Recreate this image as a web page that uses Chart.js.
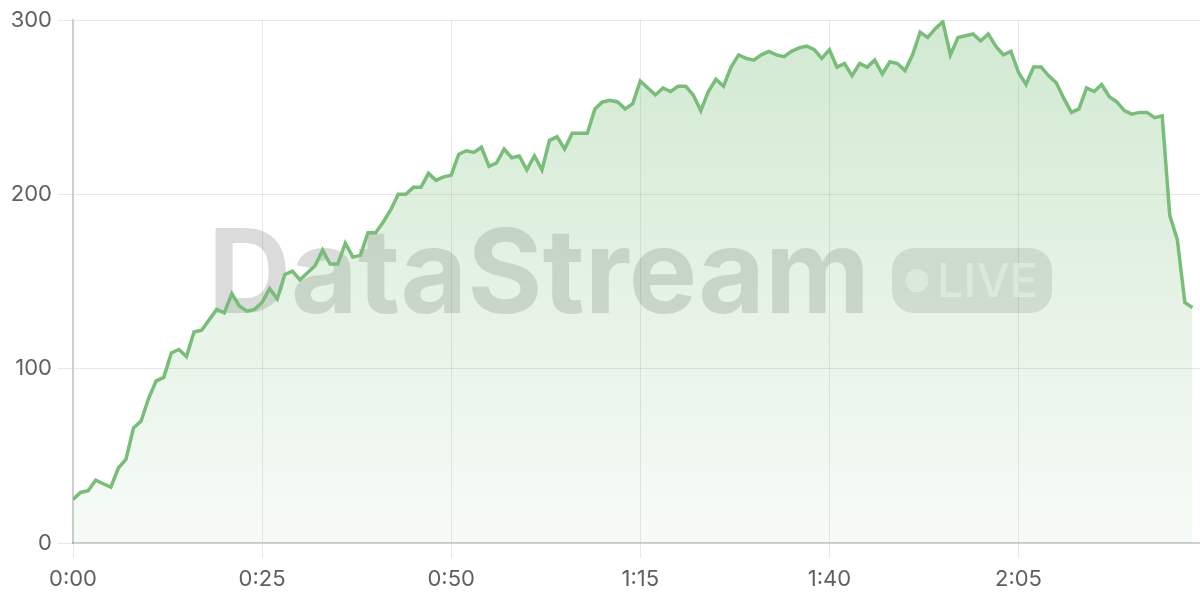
<!DOCTYPE html>
<html>
<head>
<meta charset="utf-8">
<script src="https://cdn.jsdelivr.net/npm/chart.js@4/dist/chart.umd.min.js"></script>
<style>
  html, body { margin: 0; padding: 0; background: #ffffff; }
  #wrap { width: 1200px; height: 600px; }
</style>
</head>
<body>
<div id="wrap"><canvas id="c" width="1200" height="600"></canvas></div>
<script>
// ---- data ----
const tickValues = [0, 25, 50, 75, 100, 125];
const tickLabels = ['0:00', '0:25', '0:50', '1:15', '1:40', '2:05'];
const yTicks = [0, 100, 200, 300];
const values = [
  25, 29, 30, 36, 34, 32, 43, 48, 66, 70, 83, 93, 95, 109, 111, 107, 121, 122, 128, 134, 132, 143, 136, 133, 134,
  138, 146, 140, 154, 156, 151, 155, 159, 168, 160, 160, 172, 164, 165, 178, 178, 184, 191, 200, 200, 204, 204, 212, 208, 210, 211,
  223, 225, 224, 227, 216, 218, 226, 221, 222, 214, 222, 214, 231, 233, 226, 235, 235, 235, 249, 253, 254, 253, 249, 252, 265,
  261, 257, 261, 259, 262, 262, 257, 248, 259, 266, 262, 273, 280, 278, 277, 280, 282, 280, 279, 282, 284, 285, 283, 278, 283,
  273, 275, 268, 275, 273, 277, 269, 276, 275, 271, 280, 293, 290, 295, 299, 280, 290, 291, 292, 288, 292, 285, 280, 282, 270,
  263, 273, 273, 268, 264, 255, 247, 249, 261, 259, 263, 256, 253, 248, 246, 247, 247, 244, 245, 188, 174, 138, 135
];
// elapsed seconds for each sample (one sample per second)
const seconds = [];
for (let i = 0; i < values.length; i++) seconds.push(i);

const points = seconds.map((s, i) => ({ x: s, y: values[i] }));

const watermark = {
  id: 'watermark',
  beforeDatasetsDraw(chart) {
    const ctx = chart.ctx;
    ctx.save();
    ctx.font = 'bold 117px Inter, "Liberation Sans", sans-serif';
    ctx.textBaseline = 'alphabetic';
    ctx.textAlign = 'left';
    const word = 'DataStream';
    const w = ctx.measureText(word).width;
    const targetW = 662;
    ctx.fillStyle = 'rgba(0,0,0,0.14)';
    ctx.translate(208, 313);
    ctx.scale(targetW / w, 1);
    ctx.fillText(word, 0, 0);
    ctx.restore();

    ctx.save();
    const px = 892, py = 248, pw = 160, ph = 65, r = 22;
    ctx.beginPath();
    ctx.moveTo(px + r, py);
    ctx.lineTo(px + pw - r, py);
    ctx.arcTo(px + pw, py, px + pw, py + r, r);
    ctx.lineTo(px + pw, py + ph - r);
    ctx.arcTo(px + pw, py + ph, px + pw - r, py + ph, r);
    ctx.lineTo(px + r, py + ph);
    ctx.arcTo(px, py + ph, px, py + ph - r, r);
    ctx.lineTo(px, py + r);
    ctx.arcTo(px, py, px + r, py, r);
    ctx.closePath();
    ctx.fillStyle = 'rgba(0,0,0,0.11)';
    ctx.fill();
    ctx.fillStyle = 'rgba(255,255,255,0.55)';
    ctx.beginPath();
    ctx.arc(917, 280.5, 11.5, 0, Math.PI * 2);
    ctx.fill();
    ctx.font = '500 47px Inter, "Liberation Sans", sans-serif';
    ctx.textBaseline = 'alphabetic';
    ctx.fillText('LIVE', 937, 297);
    ctx.restore();
  }
};

const ctx = document.getElementById('c').getContext('2d');
new Chart(ctx, {
  type: 'line',
  data: {
    datasets: [{
      data: points,
      borderColor: 'rgb(120,190,120)',
      borderWidth: 3.5,
      pointRadius: 0,
      pointHoverRadius: 0,
      tension: 0,
      fill: 'origin',
      backgroundColor(context) {
        const chart = context.chart;
        const area = chart.chartArea;
        if (!area) return 'rgba(120,190,120,0.2)';
        const g = chart.ctx.createLinearGradient(0, area.top, 0, area.bottom);
        g.addColorStop(0, 'rgba(120,190,120,0.34)');
        g.addColorStop(1, 'rgba(120,190,120,0.06)');
        return g;
      }
    }]
  },
  options: {
    responsive: false,
    animation: false,
    events: [],
    layout: { padding: { top: 20, right: 0, bottom: 7.6, left: 0 } },
    plugins: {
      legend: { display: false },
      tooltip: { enabled: false },
      title: { display: false }
    },
    scales: {
      x: {
        type: 'linear',
        min: 0,
        max: 149,
        afterBuildTicks(scale) {
          scale.ticks = tickValues.map(v => ({ value: v }));
        },
        afterFit(scale) { scale.height = 49.4; },
        ticks: {
          autoSkip: false,
          maxRotation: 0,
          padding: 8,
          color: '#5f5f5f',
          font: { family: 'Inter, "Liberation Sans", sans-serif', size: 22 },
          callback(value) {
            const i = tickValues.indexOf(value);
            return i >= 0 ? tickLabels[i] : '';
          }
        },
        grid: { color: 'rgba(0,0,0,0.09)', lineWidth: 1, tickLength: 15, drawTicks: true },
        border: { display: true, color: 'rgba(0,0,0,0.2)', width: 1.5 }
      },
      y: {
        min: 0,
        max: 300,
        afterBuildTicks(scale) {
          scale.ticks = yTicks.map(v => ({ value: v }));
        },
        afterFit(scale) { scale.width = 73; },
        ticks: {
          padding: 6,
          color: '#5f5f5f',
          font: { family: 'Inter, "Liberation Sans", sans-serif', size: 22 }
        },
        grid: { color: 'rgba(0,0,0,0.09)', lineWidth: 1, tickLength: 15 },
        border: { display: true, color: 'rgba(0,0,0,0.2)', width: 1.5 }
      }
    }
  },
  plugins: [watermark]
});
</script>
</body>
</html>
